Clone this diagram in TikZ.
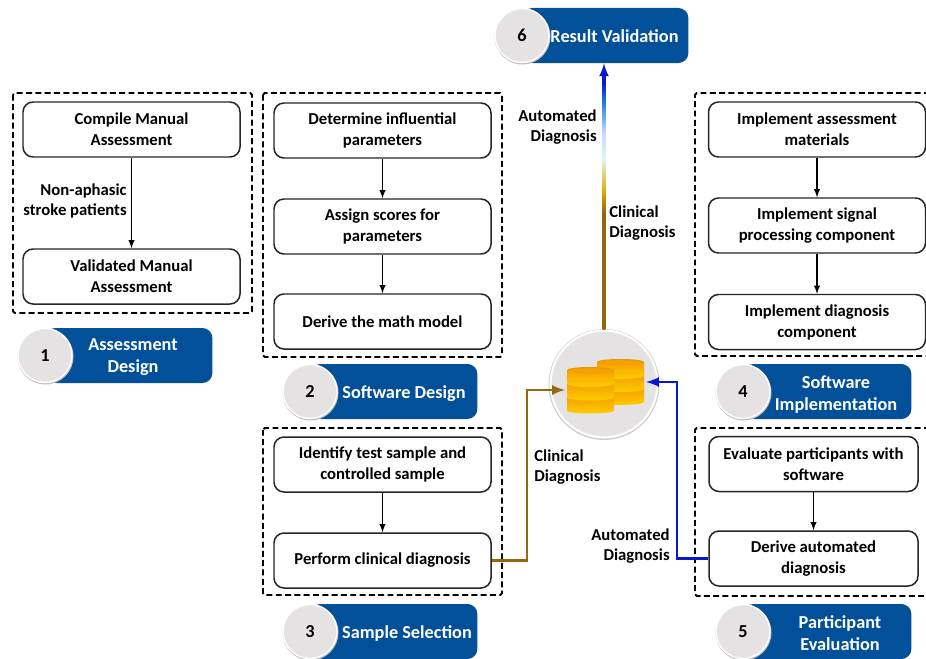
\documentclass[tikz,border=0pt]{standalone}
\usepackage{fontspec}
\setmainfont{Carlito}
\usetikzlibrary{shapes,arrows}

\definecolor{badgeblue}{HTML}{03509A}
\definecolor{circlegray}{HTML}{E4E2E3}
\definecolor{clinicalbrown}{HTML}{92690F}
\definecolor{autoblue}{HTML}{0A16D0}
\definecolor{discgold}{HTML}{FFCC00}
\definecolor{discdark}{HTML}{F4A000}

\pgfdeclareverticalshading{diagnosisflow}{100bp}{
	color(0bp)=(clinicalbrown); color(47.5bp)=(clinicalbrown); color(52bp)=(discgold!70!clinicalbrown);
	color(58bp)=(black!20!discgold!35!cyan!20!white); color(63bp)=(cyan!25!blue!20!white); color(69bp)=(autoblue!60!cyan!90!white); color(73bp)=(autoblue); color(100bp)=(autoblue)}

\begin{document}
\begin{tikzpicture}[x=0.2mm, y=-0.2mm]
		\tikzstyle {frame} = [draw, line width=1.1pt, dash pattern=on 3.4pt off 1.9pt, rounded corners=1pt]
		\tikzstyle {stepbox} = [draw=black!85, fill=white, line width=0.85pt, rounded corners=0.2cm, align=center, font=\bfseries\fontsize{9.5}{12}\selectfont, minimum width=4.34cm, minimum height=1.1cm, inner sep=0pt]
		\tikzstyle {smallbox} = [stepbox, minimum width=4.18cm]
		\tikzstyle {label} = [font=\bfseries\fontsize{9.5}{11.7}\selectfont, inner sep=0pt]
		\tikzstyle {badge} = [fill=badgeblue, rounded corners=0.2cm, minimum height=1.1cm, inner sep=0pt]
		\tikzstyle {badgetext} = [text=white, align=center, inner sep=0pt, font=\bfseries\fontsize{10.4}{12.6}\selectfont]
		\tikzstyle {number} = [circle, draw=white, line width=0.8pt, fill=circlegray, minimum size=1.08cm, inner sep=0pt, font=\bfseries\fontsize{10.4}{12.4}\selectfont]
		\tikzstyle {ring} = [circle, fill=black!25, minimum size=1.12cm, inner sep=0pt]
		\tikzstyle {next} = [-latex, line width=0.6pt]
		\tikzstyle {flow} = [-latex, line width=1.5pt]
		\tikzstyle {disc} = [top color=discdark, bottom color=discgold]

		\useasboundingbox (0,0) rectangle (926,659);
		\fill[white] (0,0) rectangle (926,659);

		\draw[frame] (13,93) rectangle (252,313);
		\draw[frame] (263,93) rectangle (502,357);
		\draw[frame] (263,428) rectangle (502,595);
		\draw[frame] (930,93) -- (695,93) -- (695,356) -- (930,356);
		\draw[frame] (930,428) -- (695,428) -- (695,596) -- (930,596);

		\node[stepbox] (compile) at (131.5,129.5) {Compile Manual\\Assessment};
		\node[stepbox] (validated) at (131.5,276.5) {Validated Manual\\Assessment};
		\draw[next] (compile) -- (validated);
		\node[label, align=right, anchor=east] (patients) at (127,201) {Non-aphasic\\stroke patients};

		\node[stepbox] (parameters) at (382.5,130.5) {Determine influential\\parameters};
		\node[stepbox] (scores) at (382.5,226.5) {Assign scores for\\parameters};
		\node[stepbox] (model) at (382.5,321.5) {Derive the math model};
		\draw[next] (parameters) -- (scores);
		\draw[next] (scores) -- (model);

		\node[stepbox] (sample) at (382.5,464.5) {Identify test sample and\\controlled sample};
		\node[stepbox] (clinical) at (382.5,560.5) {Perform clinical diagnosis};
		\draw[next] (sample) -- (clinical);

		\node[stepbox] (materials) at (817,129.5) {Implement assessment\\materials};
		\node[stepbox] (signal) at (817,225.5) {Implement signal\\processing component};
		\node[stepbox] (component) at (817,322) {Implement diagnosis\\component};
		\draw[next] (materials) -- (signal);
		\draw[next] (signal) -- (component);

		\node[smallbox] (evaluate) at (813.5,464) {Evaluate participants with\\software};
		\node[smallbox] (automated) at (813.5,558.5) {Derive automated\\diagnosis};
		\draw[next] (evaluate) -- (automated);

		\foreach \n/\x/\y/\w in {1/45/355.5/167, 2/310/391.5/167, 3/310/631.5/167, 4/743/391.5/168, 5/743/631.5/168, 6/522/35.5/166}
		{
			\node[badge, anchor=west, minimum width=\w*0.02cm] (badge\n) at (\x,\y) {};
			\node[ring] (shadow\n) at (\x+0.5,\y+1) {};
			\node[number] (num\n) at (\x,\y) {\n};
		}

		\node[badgetext] (title1) at (133,357.5) {Assessment\\Design};
		\node[badgetext] (title2) at (404,394) {Software Design};
		\node[badgetext] (title3) at (407,634) {Sample Selection};
		\node[badgetext] (title4) at (836,394.5) {Software\\Implementation};
		\node[badgetext] (title5) at (840,633) {Participant\\Evaluation};
		\node[badgetext] (title6) at (614.5,36.5) {Result Validation};

		\node[circle, fill=black!20, minimum size=2.22cm, inner sep=0pt] (dbshadow) at (604,384.5) {};
		\node[circle, draw=white, line width=1.2pt, fill=circlegray, minimum size=2.14cm, inner sep=0pt] (database) at (604,384) {};

		\foreach \x/\y in {620.5/388, 620.5/375, 620.5/362, 590.5/396.5, 590.5/383.5, 590.5/370}
		{
			\shade[disc] (\x-23.5,\y) -- (\x-23.5,\y+14) arc[x radius=23.5, y radius=-3, start angle=180, end angle=360] -- (\x+23.5,\y) -- cycle;
			\fill[discdark!85!clinicalbrown] (\x,\y) ellipse [x radius=23.5, y radius=3];
			\fill[discdark] (\x,\y+0.8) ellipse [x radius=23.5, y radius=2.6];
		}

		\coordinate (clinicalbend) at (527,560.5);
		\coordinate (clinicalturn) at (527,390);
		\coordinate (clinicalend) at (565,390);
		\coordinate (autobend) at (677,558.5);
		\coordinate (autoturn) at (677,382);
		\coordinate (autoend) at (646,382);
		\draw[flow, clinicalbrown] (clinical.east) -- (clinicalbend) -- (clinicalturn) -- (clinicalend);
		\draw[flow, autoblue] (automated.west) -- (autobend) -- (autoturn) -- (autoend);
		\draw[flow, autoblue] (database.north) -- (badge6.south -| database.north);
		\shade[shading=diagnosisflow] (602.7,329) rectangle (605.3,72);

		\node[label, align=right, anchor=east] (autotop) at (597,127) {Automated\\Diagnosis};
		\node[label, align=left, anchor=west] (clinicaltop) at (609,223) {Clinical\\Diagnosis};
		\node[label, align=left, anchor=west] (clinicallow) at (534,467) {Clinical\\Diagnosis};
		\node[label, align=right, anchor=east] (autolow) at (670,546) {Automated\\Diagnosis};
\end{tikzpicture}
\end{document}
